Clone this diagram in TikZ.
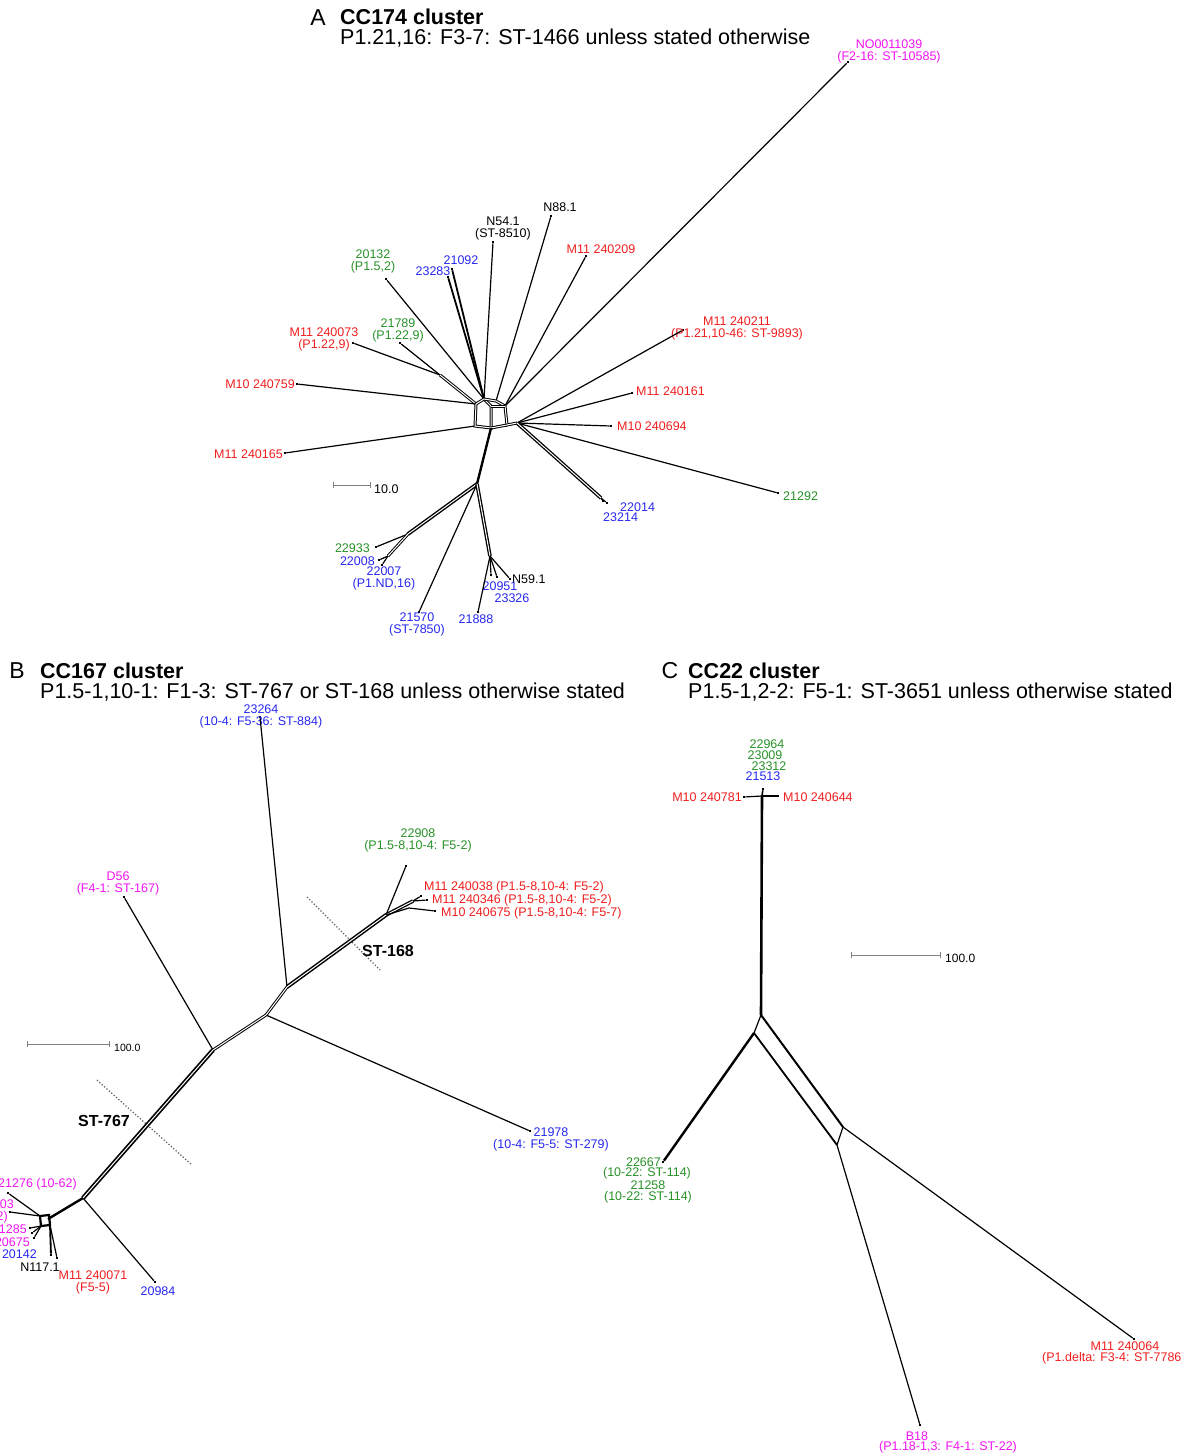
\documentclass[tikz,border=0pt]{standalone}
\usepackage{fontspec}
\setmainfont{Liberation Sans}
\usepackage{tikz}
\usetikzlibrary{arrows.meta}
\definecolor{mred}{RGB}{240,30,30}
\definecolor{mgreen}{RGB}{40,145,40}
\definecolor{mblue}{RGB}{40,40,240}
\definecolor{mpink}{RGB}{240,20,240}
\tikzstyle{lab}=[inner sep=0pt,align=center,font=\fontsize{12.5}{12}\selectfont]
\tikzstyle{labr}=[lab,text=mred]
\tikzstyle{labg}=[lab,text=mgreen]
\tikzstyle{labb}=[lab,text=mblue]
\tikzstyle{labp}=[lab,text=mpink]
\tikzstyle{title}=[inner sep=0pt,anchor=west,font=\fontsize{21.5}{22}\selectfont]
\tikzstyle{btitle}=[title,font=\fontsize{21.5}{22}\selectfont\bfseries]
\tikzstyle{letter}=[inner sep=0pt,font=\fontsize{23}{23}\selectfont]
\tikzstyle{stlab}=[inner sep=0pt,font=\fontsize{16}{16}\selectfont\bfseries]
\tikzstyle{tipdot}=[fill=black,inner sep=0pt,minimum size=2.2pt]
\tikzstyle{br}=[line width=1.2pt]
\tikzstyle{splitbr}=[double=white,double distance=1pt,line width=1pt]
\tikzstyle{heavy}=[line width=2.4pt]
\tikzstyle{scalebar}=[gray,line width=1pt,{Bar[width=6pt]}-{Bar[width=6pt]}]
\tikzstyle{divider}=[dotted,line width=1.2pt,gray!70!black]

\begin{document}
\begin{tikzpicture}[x=1pt,y=-1pt]
\useasboundingbox (0,0) rectangle (1181,1455);
% ---------------- panel A
\node[letter] (tA) at (318,18) {A};
\node[btitle] (tA1) at (340,17) {CC174 cluster};
\node[title] (tA2) at (340,38) {P1.21,16: F3-7: ST-1466 unless stated otherwise};
% hub
\coordinate (aH1) at (484,399);
\coordinate (aH2) at (496,401);
\coordinate (aB1) at (476,404);
\coordinate (aB2) at (491,406);
\coordinate (aB3) at (475,426);
\coordinate (aB4) at (491,428);
\coordinate (aB5) at (505,406);
\coordinate (aB6) at (507,425);
\coordinate (aR) at (517,423);
\coordinate (aG) at (440,375);
\coordinate (aD) at (477,484);
\coordinate (aE) at (408,534);
\coordinate (aE2) at (388,556);
\coordinate (aF) at (490,556);
\coordinate (aJ) at (601,498);
% tips
\node[tipdot] (tNO) at (848,62) {};
\node[tipdot] (tN88) at (551,216) {};
\node[tipdot] (tN54) at (493,242) {};
\node[tipdot] (tM209) at (586,256) {};
\node[tipdot] (t20132) at (386,279) {};
\node[tipdot] (t23283) at (448,277) {};
\node[tipdot] (t21092) at (452,269) {};
\node[tipdot] (t21789) at (400,343) {};
\node[tipdot] (tM073) at (353,343) {};
\node[tipdot] (tM759) at (297,384) {};
\node[tipdot] (tM165) at (285,453) {};
\node[tipdot] (tM211) at (683,330) {};
\node[tipdot] (tM161) at (632,393) {};
\node[tipdot] (tM694) at (611,426) {};
\node[tipdot] (t21292) at (778,493) {};
\node[tipdot] (t22014) at (607,503) {};
\node[tipdot] (t23214) at (603,501) {};
\node[tipdot] (t22933) at (376,547) {};
\node[tipdot] (t22008) at (379,560) {};
\node[tipdot] (t22007) at (382,565) {};
\node[tipdot] (t21570) at (419,612) {};
\node[tipdot] (t21888) at (478,612) {};
\node[tipdot] (t20951) at (491,575) {};
\node[tipdot] (t23326) at (497,577) {};
\node[tipdot] (tN59) at (510,579) {};
% labels
\node[labp] (lNO) at (889,51) {NO0011039\\(F2-16: ST-10585)};
\node[lab] (lN88) at (560,207) {N88.1};
\node[lab] (lN54) at (503,228) {N54.1\\(ST-8510)};
\node[labr] (lM209) at (601,249) {M11 240209};
\node[labg] (l20132) at (373,261) {20132\\(P1.5,2)};
\node[labb] (l21092) at (461,260) {21092};
\node[labb] (l23283) at (433,271) {23283};
\node[labg] (l21789) at (398,330) {21789\\(P1.22,9)};
\node[labr] (lM073) at (324,339) {M11 240073\\(P1.22,9)};
\node[labr] (lM211) at (737,328) {M11 240211\\(P1.21,10-46: ST-9893)};
\node[labr,anchor=east] (lM759) at (295,384) {M10 240759};
\node[labr,anchor=west] (lM161) at (636,391) {M11 240161};
\node[labr,anchor=west] (lM694) at (617,426) {M10 240694};
\node[labr,anchor=east] (lM165) at (283,454) {M11 240165};
\node[labg,anchor=west] (l21292) at (783,496) {21292};
\node[labb,anchor=west] (l22014) at (620,507) {22014};
\node[labb,anchor=west] (l23214) at (603,517) {23214};
\node[labg,anchor=east] (l22933) at (370,548) {22933};
\node[labb,anchor=east] (l22008) at (375,561) {22008};
\node[labb] (l22007) at (384,578) {22007\\(P1.ND,16)};
\node[lab,anchor=west] (lN59) at (512,579) {N59.1};
\node[labb] (l20951) at (500,586) {20951};
\node[labb] (l23326) at (512,598) {23326};
\node[labb] (l21570) at (417,624) {21570\\(ST-7850)};
\node[labb] (l21888) at (476,619) {21888};
% scale
\coordinate (sA1) at (333,485);
\coordinate (sA2) at (371,485);
\draw[scalebar] (sA1) -- (sA2);
\node[lab,anchor=west] (sAl) at (374,489) {10.0};
% edges
\draw[br] (t20132) -- (aH1);
\draw[line width=1.8pt] (t23283) -- (aH1);
\draw[line width=1.8pt] (t21092) -- (aH1);
\draw[br] (tN54) -- (aH1);
\draw[br] (tN88) -- (aH2);
\draw[br] (tM209) -- (aB5);
\draw[br] (tNO) -- (aB5);
\draw[br] (tM073) -- (aG);
\draw[br] (t21789) -- (aG);
\draw[splitbr] (aG) -- (aB1);
\draw[br] (tM759) -- (aB1);
\draw[br] (tM165) -- (aB3);
\draw[splitbr] (aH1) -- (aB1) -- (aB3) -- (aB4) -- (aB2) -- (aH1);
\draw[splitbr] (aH1) -- (aH2) -- (aB5) -- (aB6) -- (aR);
\draw[splitbr] (aB2) -- (aB5);
\draw[splitbr] (aB4) -- (aB6);
\draw[br] (aR) -- (tM211);
\draw[br] (aR) -- (tM161);
\draw[br] (aR) -- (tM694);
\draw[br] (aR) -- (t21292);
\draw[splitbr,line width=1.3pt] (aR) -- (aJ);
\draw[br] (aJ) -- (t22014);
\draw[br] (aJ) -- (t23214);
\draw[heavy] (aB4) -- (aD);
\draw[splitbr,line width=1.4pt] (aD) -- (aE);
\draw[br] (aE) -- (t22933);
\draw[splitbr] (aE) -- (aE2);
\draw[br] (aE2) -- (t22008);
\draw[br] (aE2) -- (t22007);
\draw[br] (aD) -- (t21570);
\draw[splitbr,line width=1.3pt] (aD) -- (aF);
\draw[br] (aF) -- (t21888);
\draw[br] (aF) -- (t20951);
\draw[br] (aF) -- (t23326);
\draw[br] (aF) -- (tN59);

% ---------------- panel B
\node[letter] (tB) at (17,671) {B};
\node[btitle] (tB1) at (40,671) {CC167 cluster};
\node[title] (tB2) at (40,692) {P1.5-1,10-1: F1-3: ST-767 or ST-168 unless otherwise stated};
\coordinate (bN1) at (213,1050);
\coordinate (bN2) at (266,1015);
\coordinate (bN3) at (287,987);
\coordinate (bN4) at (386,915);
\coordinate (bN7) at (413,901);
\coordinate (bN8) at (409,908);
\coordinate (bN5) at (83,1198);
\coordinate (bN6) at (48,1219);
\coordinate (bQ1) at (40,1216);
\coordinate (bQ2) at (49,1215);
\coordinate (bQ3) at (50,1225);
\coordinate (bQ4) at (41,1226);
% tips
\node[tipdot] (t23264) at (260,717) {};
\node[tipdot] (t22908) at (406,866) {};
\node[tipdot] (tM038) at (421,896) {};
\node[tipdot] (tM346) at (427,900) {};
\node[tipdot] (tM675) at (435,911) {};
\node[tipdot] (tD56) at (124,897) {};
\node[tipdot] (t21978) at (530,1131) {};
\node[tipdot] (t20984) at (155,1282) {};
\node[tipdot] (t21276) at (8,1193) {};
\node[tipdot] (t03) at (10,1212) {};
\node[tipdot] (t21285) at (30,1228) {};
\node[tipdot] (t20675) at (32,1233) {};
\node[tipdot] (t20142) at (34,1238) {};
\node[tipdot] (tM071) at (51,1255) {};
\node[tipdot] (tN117) at (57,1258) {};
% labels
\node[labb] (l23264) at (261,716) {23264\\(10-4: F5-36: ST-884)};
\node[labg] (l22908) at (418,840) {22908\\(P1.5-8,10-4: F5-2)};
\node[labp] (lD56) at (118,883) {D56\\(F4-1: ST-167)};
\node[labr,anchor=west] (lM038) at (424,887) {M11 240038 (P1.5-8,10-4: F5-2)};
\node[labr,anchor=west] (lM346) at (432,900) {M11 240346 (P1.5-8,10-4: F5-2)};
\node[labr,anchor=west] (lM675) at (441,913) {M10 240675 (P1.5-8,10-4: F5-7)};
\node[labb] (l21978) at (551,1139) {21978\\(10-4: F5-5: ST-279)};
\node[labp,anchor=west] (l21276) at (-2,1184) {21276 (10-62)};
\node[labp,anchor=east] (l03) at (14,1204) {03};
\node[labp,anchor=east] (l03b) at (8,1217) {2)};
\node[labp,anchor=east] (l21285) at (27,1229) {21285};
\node[labp,anchor=east] (l20675) at (30,1242) {20675};
\node[labb,anchor=east] (l20142) at (37,1254) {20142};
\node[lab] (lN117) at (40,1267) {N117.1};
\node[labr] (lM071) at (93,1282) {M11 240071\\(F5-5)};
\node[labb] (l20984) at (158,1291) {20984};
\node[stlab] (lST168) at (388,951) {ST-168};
\node[stlab] (lST767) at (104,1121) {ST-767};
% scale
\coordinate (sB1) at (27,1044);
\coordinate (sB2) at (110,1044);
\draw[scalebar] (sB1) -- (sB2);
\node[lab,anchor=west,font=\fontsize{10.5}{11}\selectfont] (sBl) at (114,1048) {100.0};
% dividers
\coordinate (dB1) at (307,897);
\coordinate (dB2) at (380,970);
\coordinate (dB3) at (97,1080);
\coordinate (dB4) at (192,1165);
\draw[divider] (dB1) -- (dB2);
\draw[divider] (dB3) -- (dB4);
% edges
\draw[br] (t23264) -- (bN3);
\draw[br] (t22908) -- (bN4);
\draw[splitbr,line width=1.3pt] (bN4) -- (bN7);
\draw[br] (bN7) -- (tM038);
\draw[br] (bN7) -- (tM346);
\draw[br] (bN4) -- (bN8) -- (tM675);
\draw[br] (tD56) -- (bN1);
\draw[br] (t21978) -- (bN2);
\draw[br] (t20984) -- (bN5);
\draw[splitbr,line width=1.5pt] (bN3) -- (bN4);
\draw[splitbr] (bN2) -- (bN3);
\draw[splitbr] (bN1) -- (bN2);
\draw[splitbr,line width=1.7pt] (bN1) -- (bN5);
\draw[heavy] (bN5) -- (bN6);
\draw[line width=2.2pt] (bQ1) -- (bQ2) -- (bQ3) -- (bQ4) -- cycle;
\draw[br] (t21276) -- (bQ1);
\draw[br] (t03) -- (bQ1);
\draw[br] (t21285) -- (bQ4);
\draw[br] (t20675) -- (bQ4);
\draw[br] (t20142) -- (bQ4);
\draw[line width=1.8pt] (tM071) -- (bQ3);
\draw[br] (tN117) -- (bQ3);

% ---------------- panel C
\node[letter] (tC) at (670,671) {C};
\node[btitle] (tC1) at (688,671) {CC22 cluster};
\node[title] (tC2) at (688,692) {P1.5-1,2-2: F5-1: ST-3651 unless otherwise stated};
\coordinate (cTop) at (762,796);
\coordinate (cS1) at (761,1015);
\coordinate (cS2) at (754,1033);
\coordinate (cS3) at (843,1127);
\coordinate (cS4) at (837,1145);
% tips
\node[tipdot] (tC1) at (763,789) {};
\node[tipdot] (tM781) at (744,797) {};
\node[tipdot] (tM644) at (778,796) {};
\node[tipdot] (t22667) at (663,1162) {};
\node[tipdot] (tM064) at (1134,1339) {};
\node[tipdot] (tB18) at (920,1425) {};
% labels
\node[labg] (l22964) at (767,744) {22964};
\node[labg] (l23009) at (765,755) {23009};
\node[labg] (l23312) at (769,766) {23312};
\node[labb] (l21513) at (763,776) {21513};
\node[labr,anchor=east] (lM781) at (742,797) {M10 240781};
\node[labr,anchor=west] (lM644) at (783,797) {M10 240644};
\node[labg,anchor=east] (l22667) at (661,1162) {22667};
\node[labg] (l22667b) at (647,1173) {(10-22: ST-114)};
\node[labg] (l21258) at (648,1185) {21258};
\node[labg] (l21258b) at (648,1197) {(10-22: ST-114)};
\node[labr] (lM064) at (1125,1346) {M11 240064};
\node[labr,anchor=west] (lM064b) at (1042,1358) {(P1.delta: F3-4: ST-7786)};
\node[labp] (lB18) at (917,1436) {B18};
\node[labp] (lB18b) at (948,1447) {(P1.18-1,3: F4-1: ST-22)};
% scale
\coordinate (sC1) at (851,955);
\coordinate (sC2) at (941,955);
\draw[scalebar] (sC1) -- (sC2);
\node[lab,anchor=west,font=\fontsize{12}{12}\selectfont] (sCl) at (945,958) {100.0};
% edges
\draw[line width=1.6pt] (tC1) -- (cTop);
\draw[br] (tM781) -- (cTop);
\draw[br] (tM644) -- (cTop);
\draw[line width=2.6pt] (cTop) -- (cS1);
\draw[br] (cS1) -- (cS2);
\draw[line width=2.4pt] (cS2) -- (t22667);
\draw[line width=2pt] (cS1) -- (cS3);
\draw[line width=1.8pt] (cS2) -- (cS4);
\draw[br] (cS3) -- (cS4);
\draw[br] (cS3) -- (tM064);
\draw[br] (cS4) -- (tB18);
\end{tikzpicture}
\end{document}
